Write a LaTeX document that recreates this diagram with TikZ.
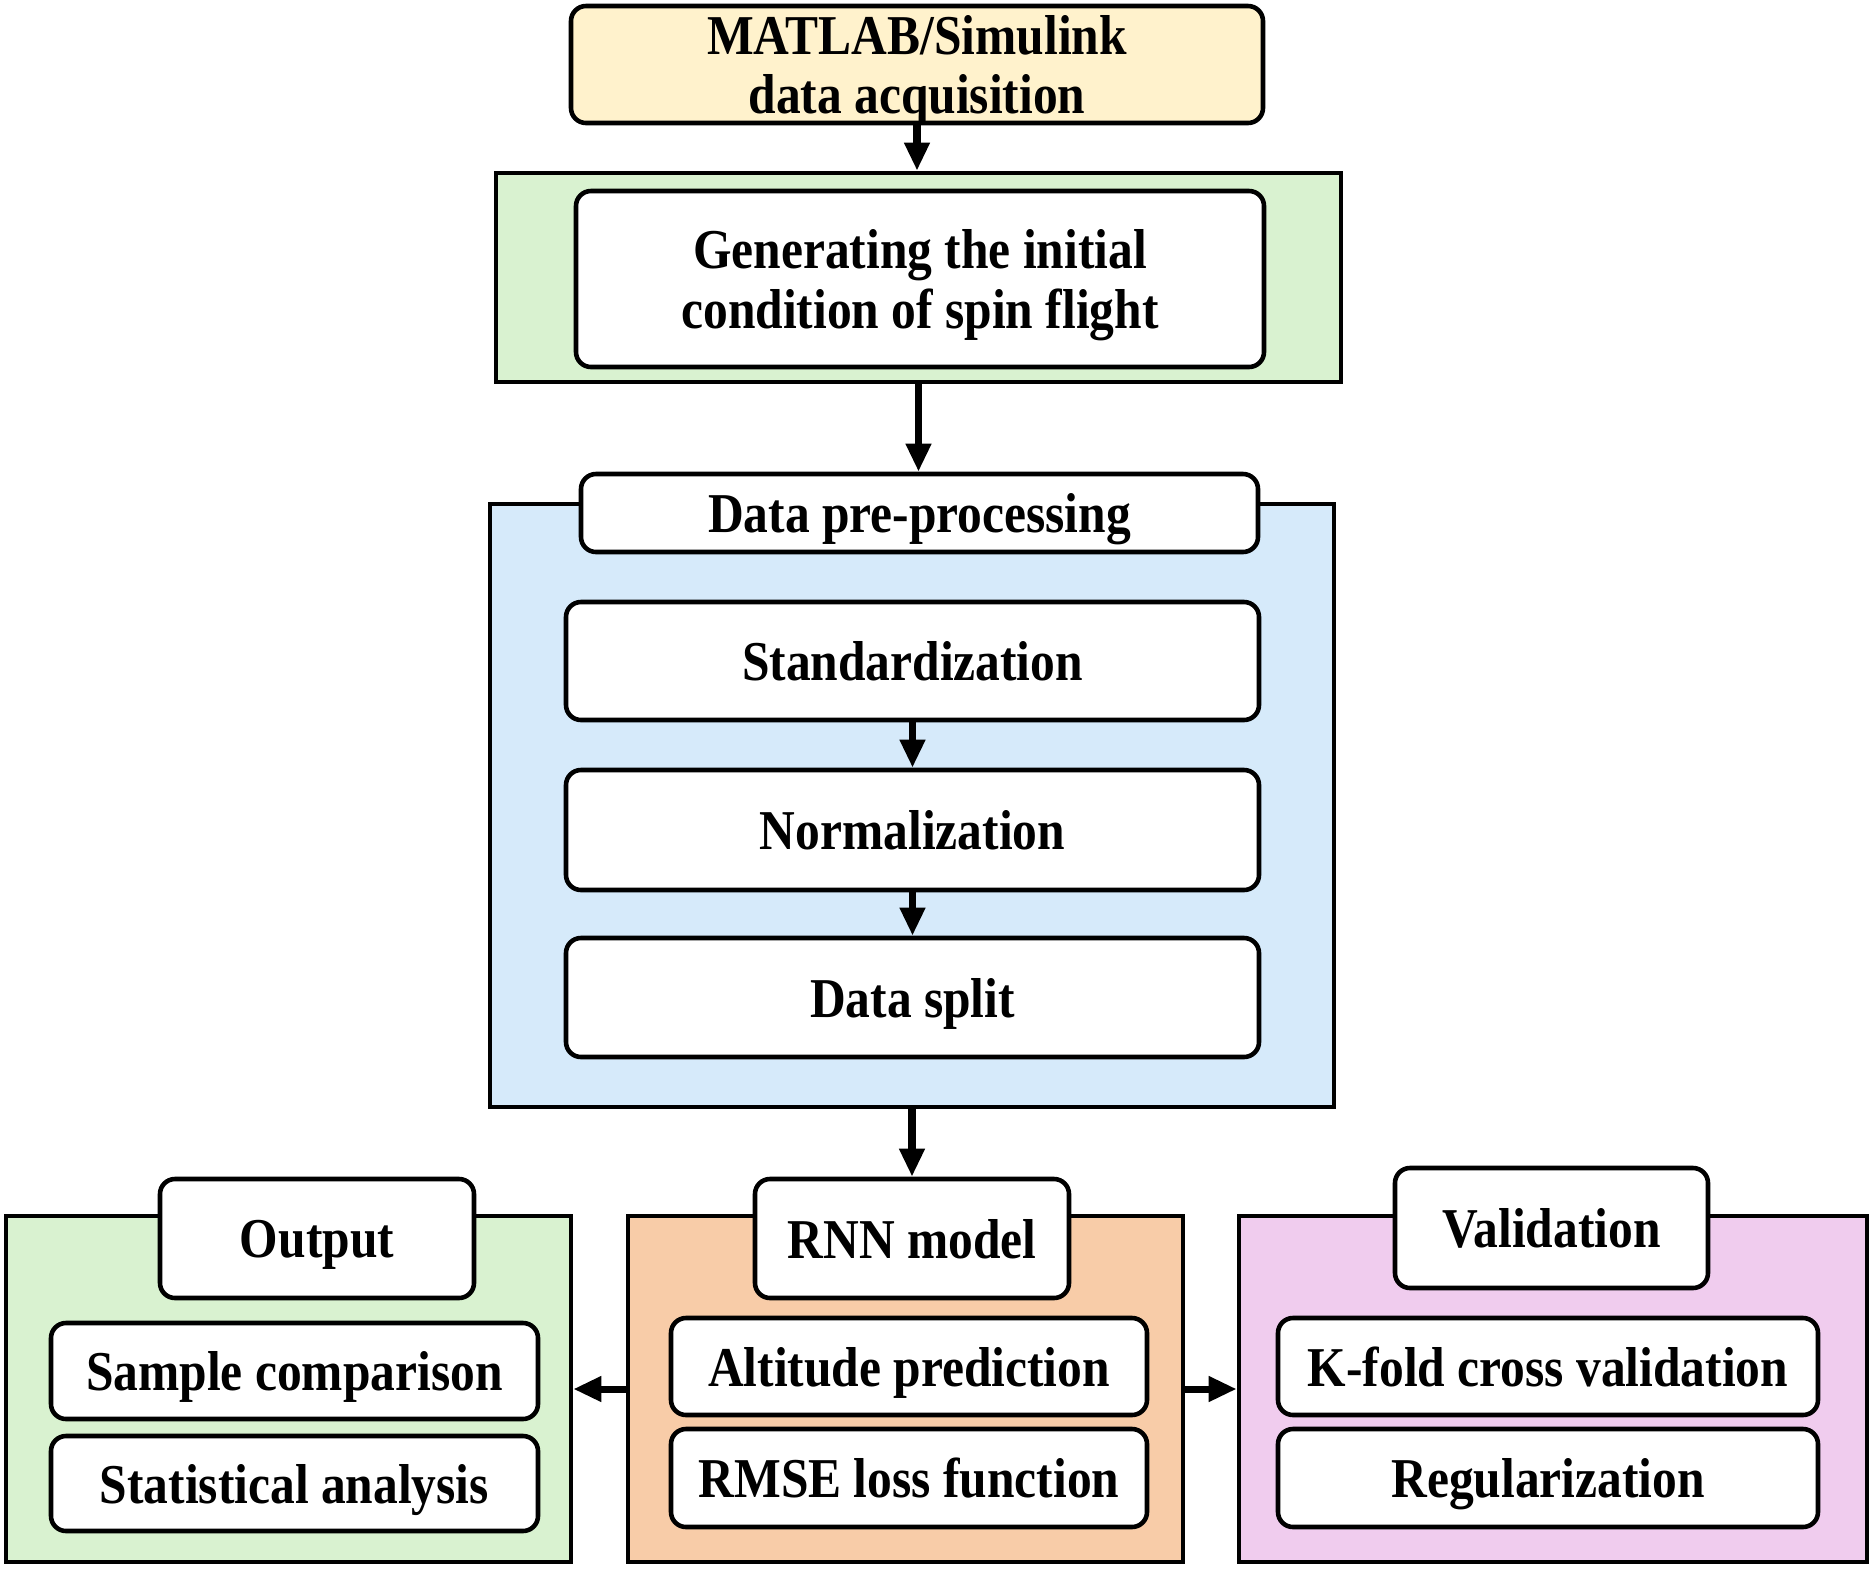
\documentclass[tikz,border=0pt]{standalone}
\usepackage{fontspec}
\setmainfont{Liberation Serif}[FakeStretch=0.88]
\usetikzlibrary{arrows.meta}

\definecolor{accyellow}{RGB}{255,242,204}
\definecolor{accgreen}{RGB}{217,242,208}
\definecolor{accblue}{RGB}{214,234,250}
\definecolor{accorange}{RGB}{248,204,168}
\definecolor{accpink}{RGB}{240,204,238}

\begin{document}
\begin{tikzpicture}[
		font=\fontsize{16}{17}\selectfont\bfseries,
		sz/.style 2 args={minimum width=#1cm, minimum height=#2cm},
		frame/.style={draw, line width=1.3pt, inner sep=0pt},
		wbox/.style={draw, fill=white, line width=1.3pt, rounded corners=0.15cm, align=center, inner sep=0pt, text depth=0pt},
		arr/.style={line width=2pt, -{Triangle[length=0.28cm, width=0.24cm]}}
	]
		\useasboundingbox (0,0) rectangle (18.73,-15.70);

		%% top: data source and initial condition
		\node[wbox, fill=accyellow, sz={6.92}{1.17}] (matlab) at (9.17,-0.645) {MATLAB/Simulink\\data acquisition};
		\node[frame, fill=accgreen, sz={8.45}{2.09}] (genframe) at (9.185,-2.775) {};
		\node[wbox, sz={6.88}{1.76}] (gen) at (9.20,-2.79) {Generating the initial\\condition of spin flight};

		%% pre-processing block
		\node[frame, fill=accblue, sz={8.44}{6.03}] (preframe) at (9.12,-8.055) {};
		\node[wbox, sz={6.77}{0.78}] (pre) at (9.195,-5.13) {Data pre-processing};
		\node[wbox, sz={6.93}{1.18}] (std) at (9.125,-6.61) {Standardization};
		\node[wbox, sz={6.93}{1.20}] (norm) at (9.125,-8.30) {Normalization};
		\node[wbox, sz={6.93}{1.19}] (split) at (9.125,-9.975) {Data split};

		%% bottom row
		\node[frame, fill=accgreen, sz={5.65}{3.46}] (outframe) at (2.885,-13.89) {};
		\node[frame, fill=accorange, sz={5.55}{3.46}] (rnnframe) at (9.055,-13.89) {};
		\node[frame, fill=accpink, sz={6.28}{3.46}] (valframe) at (15.53,-13.89) {};

		\node[wbox, sz={3.14}{1.19}] (out) at (3.17,-12.385) {Output};
		\node[wbox, sz={4.87}{0.96}] (samp) at (2.945,-13.71) {Sample comparison};
		\node[wbox, sz={4.87}{0.95}] (stat) at (2.945,-14.835) {Statistical analysis};

		\node[wbox, sz={3.14}{1.19}] (rnn) at (9.12,-12.385) {RNN model};
		\node[wbox, sz={4.76}{0.97}] (alt) at (9.09,-13.665) {Altitude prediction};
		\node[wbox, sz={4.76}{0.98}] (rmse) at (9.09,-14.78) {RMSE loss function};

		\node[wbox, sz={3.13}{1.20}] (val) at (15.515,-12.28) {Validation};
		\node[wbox, sz={5.40}{0.97}] (kfold) at (15.48,-13.665) {K-fold cross validation};
		\node[wbox, sz={5.40}{0.98}] (reg) at (15.48,-14.78) {Regularization};

		%% connectors
		\draw[arr] (matlab.south) -- (matlab.south |- genframe.north);
		\draw[arr] (genframe.south) -- (genframe.south |- pre.north);
		\draw[arr] (std) -- (norm);
		\draw[arr] (norm) -- (split);
		\draw[arr] (preframe.south) -- (preframe.south |- rnn.north);
		\draw[arr] (rnnframe.west) -- (outframe.east);
		\draw[arr] (rnnframe.east) -- (valframe.west);
	\end{tikzpicture}
\end{document}
